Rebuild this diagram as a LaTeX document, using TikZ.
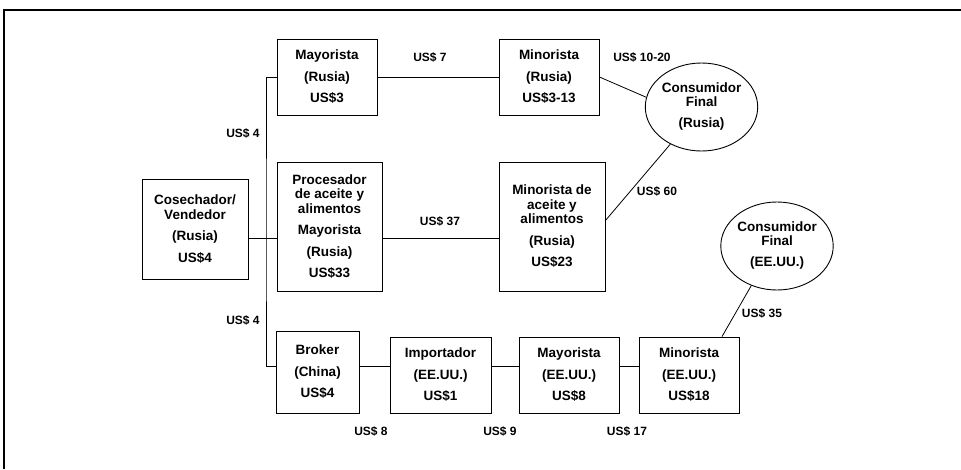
\documentclass[tikz,border=0pt]{standalone}
\usepackage{fontspec}
\setmainfont{Liberation Sans}
\usetikzlibrary{positioning, calc, shapes.geometric}
\tikzset{
  agent/.style={draw=black, line width=0.9pt, fill=white, align=center, inner sep=0pt, font=\fontsize{13.5}{14.5}\selectfont\bfseries},
  consumer/.style={draw=black, line width=0.9pt, ellipse, fill=white, align=center, inner sep=0pt, font=\fontsize{13.5}{14}\selectfont\bfseries},
  price/.style={inner sep=0pt, font=\fontsize{12}{13}\selectfont\bfseries},
  link/.style={draw=black, line width=0.8pt},
  frame/.style={draw=black, line width=2.4pt}
}

\begin{document}
\begin{tikzpicture}[x=1pt, y=-1pt]
\useasboundingbox (0,0) rectangle (961,469);
\draw[frame] (4,469) -- (4,10) -- (961,10);

% actores
\node[agent, minimum width=106, minimum height=100] (cos) at (195,229) {Cosechador/\\Vendedor\\[7pt](Rusia)\\[7pt]US\$4};
\node[agent, minimum width=100, minimum height=76] (may1) at (327,77) {Mayorista\\[7pt](Rusia)\\[7pt]US\$3};
\node[agent, minimum width=105, minimum height=129] (proc) at (329.5,226.5) {Procesador\\de aceite y\\alimentos\\[7pt]Mayorista\\[7pt](Rusia)\\[7pt]US\$33};
\node[agent, minimum width=100, minimum height=76] (min1) at (549,77) {Minorista\\[7pt](Rusia)\\[7pt]US\$3-13};
\node[agent, minimum width=106, minimum height=129] (mina) at (552,226.5) {Minorista de\\aceite y\\alimentos\\[7pt](Rusia)\\[7pt]US\$23};
\node[agent, minimum width=83, minimum height=82] (brk) at (317.5,372) {Broker\\[7pt](China)\\[7pt]US\$4};
\node[agent, minimum width=101, minimum height=76] (imp) at (440.5,375) {Importador\\[7pt](EE.UU.)\\[7pt]US\$1};
\node[agent, minimum width=100, minimum height=76] (may2) at (569,375) {Mayorista\\[7pt](EE.UU.)\\[7pt]US\$8};
\node[agent, minimum width=100, minimum height=76] (min2) at (689,375) {Minorista\\[7pt](EE.UU.)\\[7pt]US\$18};

\node[consumer, minimum width=111, minimum height=88] (consR) at (701.5,107) {Consumidor\\Final\\[7pt](Rusia)};
\node[consumer, minimum width=112, minimum height=88] (consU) at (777,246) {Consumidor\\Final\\[7pt](EE.UU.)};

% precios
\node[price] (p4a) at (243,133) {US\$ 4};
\node[price] (p4b) at (243,320) {US\$ 4};
\node[price] (p7) at (430,57) {US\$ 7};
\node[price] (p37) at (440,221) {US\$ 37};
\node[price] (p1020) at (642,57) {US\$ 10-20};
\node[price] (p60) at (657,191) {US\$ 60};
\node[price] (p35) at (762,313) {US\$ 35};
\node[price] (p8) at (371,431) {US\$ 8};
\node[price] (p9) at (500,431) {US\$ 9};
\node[price] (p17) at (627,431) {US\$ 17};

% conexiones
\coordinate (trunk) at (266,238);
\coordinate (lowrow) at (0,366);
\draw[link] (cos.east |- trunk) -- (proc.west |- trunk);
\draw[link] (may1.west) -| (trunk) |- (brk.west |- lowrow);
\draw[link] (may1.east) -- (min1.west);
\draw[link] (proc.east |- trunk) -- (mina.west |- trunk);
\draw[link] (min1.east) -- (consR.170);
\draw[link] ([yshift=6pt]mina.east) -- (consR.230);
\draw[link] (brk.east |- lowrow) -- (imp.west |- lowrow);
\draw[link] (imp.east |- lowrow) -- (may2.west |- lowrow);
\draw[link] (may2.east |- lowrow) -- (min2.west |- lowrow);
\draw[link] ([xshift=33pt]min2.north) -- (consU.237);
\end{tikzpicture}
\end{document}
